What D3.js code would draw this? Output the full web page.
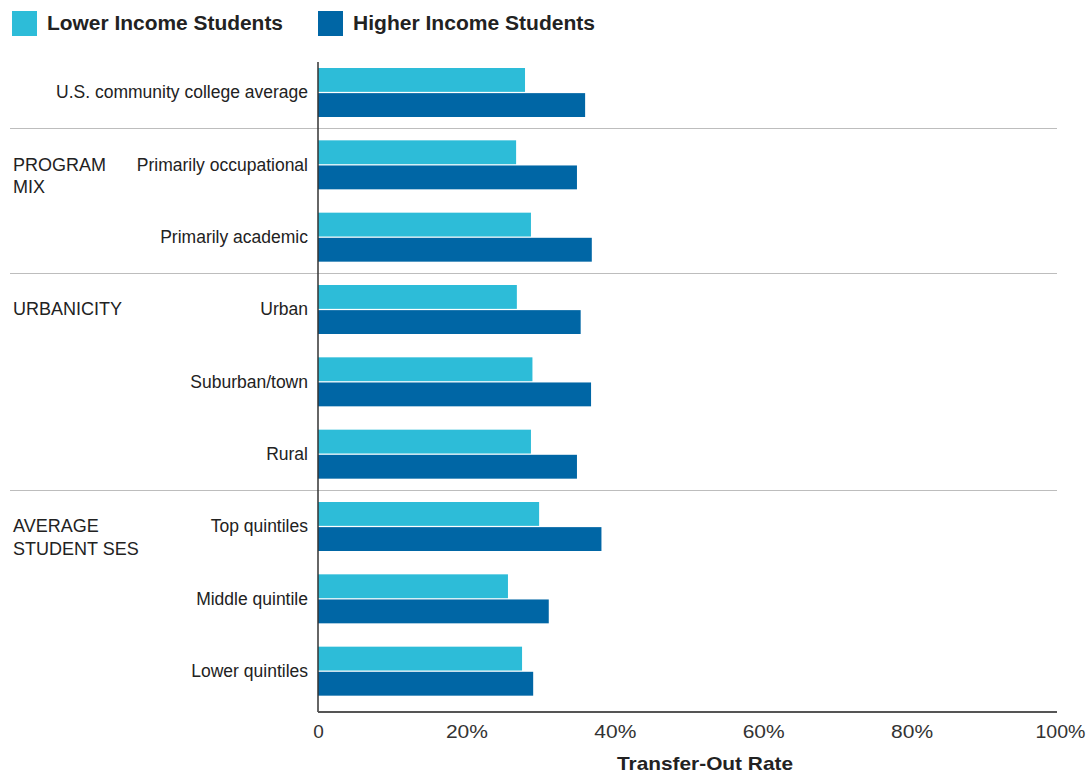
<!DOCTYPE html>
<html>
<head>
<meta charset="utf-8">
<script src="https://cdn.jsdelivr.net/npm/d3@7"></script>
<style>
  html, body { margin: 0; padding: 0; background: #fff; }
  svg { display: block; font-family: "Liberation Sans", Arial, sans-serif; }
</style>
</head>
<body>
<svg id="chart" width="1089" height="773"></svg>
<script>
const categories = [
  "U.S. community college average",
  "Primarily occupational",
  "Primarily academic",
  "Urban",
  "Suburban/town",
  "Rural",
  "Top quintiles",
  "Middle quintile",
  "Lower quintiles"
];
const lowerIncome  = [27.9, 26.7, 28.7, 26.8, 28.9, 28.7, 29.8, 25.6, 27.5];
const higherIncome = [36.0, 34.9, 36.9, 35.4, 36.8, 34.9, 38.2, 31.1, 29.0];
const seriesNames = ["Lower Income Students", "Higher Income Students"];
const seriesColors = ["#2dbcd8", "#0066a5"];
const groups = [
  { lines: ["PROGRAM", "MIX"], first: "Primarily occupational" },
  { lines: ["URBANICITY"], first: "Urban" },
  { lines: ["AVERAGE", "STUDENT SES"], first: "Top quintiles" }
];
const separatorsAfter = ["U.S. community college average", "Primarily academic", "Rural"];
const xTicks = [0, 20, 40, 60, 80, 100];
const xTitle = "Transfer-Out Rate";

const svg = d3.select("#chart");
const x = d3.scaleLinear().domain([0, 100]).range([318, 1060]);
const y = d3.scaleBand().domain(categories).range([56, 707]).paddingInner(0).paddingOuter(0);
const y1 = d3.scaleBand().domain([0, 1]).range([12, 61]).paddingInner(0.05);

const data = categories.map((c, i) => ({ cat: c, vals: [lowerIncome[i], higherIncome[i]] }));

// separators
separatorsAfter.forEach(c => {
  const yy = Math.round(y(c) + y.bandwidth()) + 0.5;
  svg.append("line").attr("x1", 10).attr("x2", 1057).attr("y1", yy).attr("y2", yy)
    .attr("stroke", "#bdbdbd").attr("stroke-width", 1.2);
});

// bars
const g = svg.append("g");
data.forEach(d => {
  d.vals.forEach((v, si) => {
    g.append("rect")
      .attr("x", x(0))
      .attr("y", y(d.cat) + y1(si))
      .attr("width", x(v) - x(0))
      .attr("height", y1.bandwidth())
      .attr("fill", seriesColors[si]);
  });
});

// axes lines
svg.append("line").attr("x1", x(0)).attr("x2", x(0)).attr("y1", 62).attr("y2", 712)
  .attr("stroke", "#333").attr("stroke-width", 1.5);
const xAxis = svg.append("g").attr("transform", "translate(0,712)")
  .call(d3.axisBottom(x).tickValues(xTicks).tickSize(0).tickPadding(13)
    .tickFormat(d => d === 0 ? "0" : d + "%"));
xAxis.select(".domain").attr("stroke", "#555").attr("stroke-width", 2)
  .attr("d", `M${x(0)},0H${x(100) - 3}`);
xAxis.selectAll("text").attr("font-size", 19).attr("fill", "#333")
  .attr("font-family", "Liberation Sans, Arial, sans-serif")
  .attr("textLength", d => d === 0 ? null : (d === 100 ? 50 : 42))
  .attr("lengthAdjust", "spacingAndGlyphs");

// axis title
svg.append("text").attr("x", 705).attr("y", 770).attr("text-anchor", "middle")
  .attr("font-size", 19).attr("font-weight", "bold").attr("fill", "#222")
  .attr("textLength", 176).attr("lengthAdjust", "spacingAndGlyphs")
  .text(xTitle);

// category labels
categories.forEach(c => {
  svg.append("text").attr("x", 308).attr("y", y(c) + y.bandwidth() / 2 + 6)
    .attr("text-anchor", "end").attr("font-size", 17.5).attr("fill", "#222").text(c);
});

// group labels
groups.forEach(gr => {
  const base = y(gr.first) + y.bandwidth() / 2 + 6;
  gr.lines.forEach((ln, i) => {
    svg.append("text").attr("x", 13).attr("y", base + i * 22.5)
      .attr("font-size", 18).attr("fill", "#222").text(ln);
  });
});

// legend
const legendX = [12, 318];
const legendW = [236, 242];
seriesNames.forEach((n, i) => {
  svg.append("rect").attr("x", legendX[i]).attr("y", 11).attr("width", 25).attr("height", 25)
    .attr("fill", seriesColors[i]);
  svg.append("text").attr("x", legendX[i] + 35).attr("y", 30)
    .attr("font-size", 20).attr("font-weight", "bold").attr("fill", "#222")
    .attr("textLength", legendW[i]).attr("lengthAdjust", "spacingAndGlyphs")
    .text(n);
});
</script>
</body>
</html>
